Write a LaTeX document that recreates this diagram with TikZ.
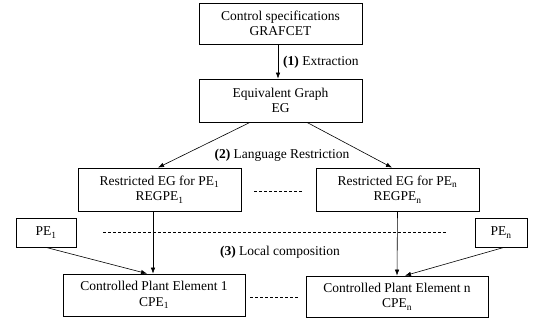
\documentclass[tikz,border=0pt]{standalone}
\usepackage{fontspec}
\setmainfont{Liberation Serif}
\usetikzlibrary{arrows.meta}
\begin{document}
\begin{tikzpicture}[x=1pt,y=-1pt,
  every node/.style={font=\fontsize{13.5}{15.5}\selectfont},
  box/.style={draw, line width=0.8pt, align=center, inner sep=0pt},
  conn/.style={line width=0.6pt, -{Latex[length=6pt,width=4.5pt]}},
  dotline/.style={line width=0.6pt, dash pattern=on 3pt off 2pt}]
\useasboundingbox (0,0) rectangle (536,324);
\node[box, minimum width=163, minimum height=41] (b1) at (280.5,23.5) {Control specifications\\GRAFCET};
\node[box, minimum width=163, minimum height=43] (b2) at (280.5,100.5) {Equivalent Graph\\EG};
\node[box, minimum width=163, minimum height=43] (r1) at (159.5,189.5) {Restricted EG for PE\textsubscript{1}\\REGPE\textsubscript{1}};
\node[box, minimum width=163, minimum height=43] (rn) at (397.5,189.5) {Restricted EG for PE\textsubscript{n}\\REGPE\textsubscript{n}};
\node[box, minimum width=60, minimum height=29] (pe1) at (46,232.5) {PE\textsubscript{1}};
\node[box, minimum width=52, minimum height=29] (pen) at (501,232.5) {PE\textsubscript{n}};
\node[box, minimum width=182, minimum height=42] (c1) at (154,295) {Controlled Plant Element 1\\CPE\textsubscript{1}};
\node[box, minimum width=182, minimum height=41] (cn) at (397,296.5) {Controlled Plant Element n\\CPE\textsubscript{n}};
\node[anchor=west, inner sep=0pt] (l1) at (283,62) {\textbf{(1)} Extraction};
\node[inner sep=0pt] (l2) at (282,155) {\textbf{(2)} Language Restriction};
\node[inner sep=0pt] (l3) at (280,252) {\textbf{(3)} Local composition};
\draw[conn] ([xshift=-2.5pt]b1.south) -- ([xshift=-2.5pt]b2.north);
\draw[conn] ([xshift=-30.5pt]b2.south) -- ([xshift=-1.5pt]r1.north);
\draw[conn] ([xshift=26.5pt]b2.south) -- ([xshift=-5.5pt]rn.north);
\draw[conn] ([xshift=-6.5pt]r1.south) -- ([xshift=-1pt]c1.north);
\draw[conn] (rn.south) -- (cn.north);
\draw[conn] (pe1.south) -- ([xshift=-7pt]c1.north);
\draw[conn] ([xshift=3pt]pen.south) -- ([xshift=8pt]cn.north);
\draw[dotline] ([xshift=13pt,yshift=-1.5pt]r1.east) -- ([xshift=-13pt,yshift=-1.5pt]rn.west);
\draw[dotline] ([xshift=27pt]pe1.east) -- ([xshift=-27pt]pen.west);
\draw[dotline] ([xshift=5pt,yshift=-2pt]c1.east) -- ([xshift=-6pt,yshift=-0.5pt]cn.west);
\end{tikzpicture}
\end{document}
